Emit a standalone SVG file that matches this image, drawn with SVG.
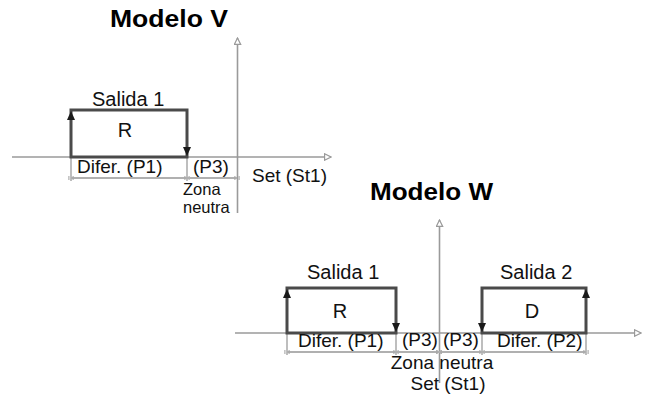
<svg xmlns="http://www.w3.org/2000/svg" width="645" height="394" viewBox="0 0 645 394">
<defs>
<style>
.t{font-family:"Liberation Sans",Arial,sans-serif;fill:#111;font-size:19px}
.s{font-size:20px}
.z{font-size:16.5px}
.b{font-family:"Liberation Sans",Arial,sans-serif;font-weight:bold;font-size:24px;fill:#000}
.ax{stroke:#9a9a9a;stroke-width:1.6;fill:none}
.out{stroke:#4a4a4a;stroke-width:3;fill:none}
.dim{stroke:#b0b0b0;stroke-width:2;fill:none}
.ext{stroke:#a8a8a8;stroke-width:1.5;fill:none}
.ah{fill:#1a1a1a}
</style>
<marker id="open" viewBox="0 0 10 10" refX="9" refY="5" markerWidth="8" markerHeight="8" orient="auto" markerUnits="userSpaceOnUse">
<path d="M1,1 L9,5 L1,9 Z" fill="#fff" stroke="#9a9a9a" stroke-width="1.5"/>
</marker>
<marker id="tick" viewBox="0 0 10 10" refX="5" refY="5" markerWidth="7" markerHeight="7" orient="auto" markerUnits="userSpaceOnUse">
<path d="M2,2 V8 M8,2 V8" stroke="#a8a8a8" stroke-width="1.6" fill="none"/>
</marker>
</defs>

<g id="connectors">
<line class="ax" x1="12" y1="157" x2="331" y2="157" marker-end="url(#open)"/>
<line class="ax" x1="237.5" y1="213" x2="237.5" y2="38" marker-end="url(#open)"/>
<line class="ext" x1="71" y1="157" x2="71" y2="181"/>
<line class="ext" x1="187" y1="157" x2="187" y2="181"/>
<line class="dim" x1="71" y1="178" x2="187" y2="178" marker-start="url(#tick)" marker-end="url(#tick)"/>
<line class="dim" x1="187" y1="178" x2="237" y2="178" marker-end="url(#tick)"/>
<line class="ax" x1="235" y1="333" x2="641" y2="333" marker-end="url(#open)"/>
<line class="ax" x1="439.5" y1="383" x2="439.5" y2="220" marker-end="url(#open)"/>
<line class="ext" x1="287" y1="333" x2="287" y2="355"/>
<line class="ext" x1="396" y1="333" x2="396" y2="355"/>
<line class="ext" x1="482" y1="333" x2="482" y2="355"/>
<line class="ext" x1="586" y1="333" x2="586" y2="355"/>
<line class="dim" x1="287" y1="352" x2="396" y2="352" marker-start="url(#tick)" marker-end="url(#tick)"/>
<line class="dim" x1="396" y1="352" x2="439" y2="352" marker-end="url(#tick)"/>
<line class="dim" x1="439" y1="352" x2="482" y2="352" marker-start="url(#tick)" marker-end="url(#tick)"/>
<line class="dim" x1="482" y1="352" x2="586" y2="352" marker-end="url(#tick)"/>
</g>

<g id="title-v"><text class="b" x="110" y="27" textLength="118" lengthAdjust="spacingAndGlyphs">Modelo V</text></g>

<g id="v-salida1">
<rect class="out" x="71" y="110" width="116" height="47"/>
<path class="ah" d="M71,111 L67,120 L75,120 Z"/>
<path class="ah" d="M187,156 L183,147 L191,147 Z"/>
<text class="t s" x="92" y="106">Salida 1</text>
<text class="t s" x="125" y="137" text-anchor="middle">R</text>
</g>

<g id="v-labels">
<text class="t" x="77" y="173">Difer. (P1)</text>
<text class="t" x="193" y="173" font-size="18">(P3)</text>
<text class="t" x="252" y="182">Set (St1)</text>
<text class="t z" x="183" y="195">Zona</text>
<text class="t z" x="183" y="213">neutra</text>
</g>

<g id="title-w"><text class="b" x="370" y="200" textLength="123" lengthAdjust="spacingAndGlyphs">Modelo W</text></g>

<g id="w-salida1">
<rect class="out" x="287" y="288" width="109" height="45"/>
<path class="ah" d="M287,289 L283,298 L291,298 Z"/>
<path class="ah" d="M396,332 L392,323 L400,323 Z"/>
<text class="t s" x="307" y="279">Salida 1</text>
<text class="t s" x="340" y="318" text-anchor="middle">R</text>
</g>

<g id="w-salida2">
<rect class="out" x="482" y="288" width="104" height="45"/>
<path class="ah" d="M482,332 L478,323 L486,323 Z"/>
<path class="ah" d="M586,289 L582,298 L590,298 Z"/>
<text class="t s" x="500" y="279">Salida 2</text>
<text class="t s" x="532" y="318" text-anchor="middle">D</text>
</g>

<g id="w-labels">
<text class="t" x="298" y="346.5">Difer. (P1)</text>
<text class="t" x="402" y="346" font-size="18">(P3)</text>
<text class="t" x="443" y="346" font-size="18">(P3)</text>
<text class="t" x="497" y="346.5">Difer. (P2)</text>
<text class="t" x="442" y="368.5" text-anchor="middle">Zona neutra</text>
<text class="t" x="448" y="390" text-anchor="middle">Set (St1)</text>
</g>
</svg>
